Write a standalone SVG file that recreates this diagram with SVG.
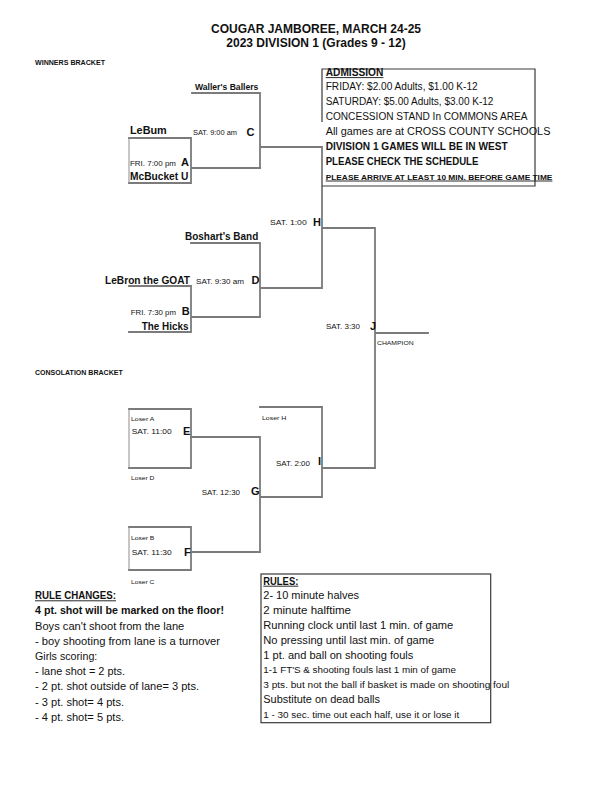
<svg xmlns="http://www.w3.org/2000/svg" width="612" height="792" viewBox="0 0 612 792">
<style>
text{font-family:"Liberation Sans",Arial,sans-serif;fill:#111}
.t{font-size:12px;font-weight:bold}
.hd{font-size:6.5px;font-weight:bold}
.nm{font-size:10.5px;font-weight:bold}
.wb{font-size:8.5px;font-weight:bold}
.s{font-size:7px}
.xs{font-size:6px}
.s2{font-size:7.5px}
.lt{font-size:11px;font-weight:bold}
.a{font-size:10px}
.ab{font-size:10px;font-weight:bold}
.asm{font-size:7.5px;font-weight:bold}
.r{font-size:10px}
.rs{font-size:8.5px}
.ln{stroke:#7b7b7b;stroke-width:1.8;fill:none;stroke-linecap:square}
.thin{stroke:#8c8c8c;stroke-width:1;fill:none}
.box{stroke:#3a3a3a;stroke-width:1.2;fill:none}
.ul{stroke:#111;stroke-width:0.9}
</style>
<rect width="612" height="792" fill="#fff"/>
<g id="title">
<text class="t" x="316" y="33" text-anchor="middle">COUGAR JAMBOREE, MARCH 24-25</text>
<text class="t" x="316" y="46.5" text-anchor="middle">2023 DIVISION 1 (Grades 9 - 12)</text>
</g>
<g id="section-labels">
<text class="hd" x="35" y="64.5" textLength="70" lengthAdjust="spacingAndGlyphs">WINNERS BRACKET</text>
<text class="hd" x="35" y="375" textLength="87.7" lengthAdjust="spacingAndGlyphs">CONSOLATION BRACKET</text>
</g>
<g id="connectors">
<path class="ln" d="M129,138H191V183H129 M191,168H260"/>
<path class="thin" d="M129,138V183"/>
<path class="ln" d="M192,93H260V168 M260,147H322V288 M191,243H260V317H191 M129,286H191V332H129 M260,288H322 M322,228H375V468 M375,333H428"/>
<path class="ln" d="M260,407H322V497H260 M322,468H375 M191,437H260V552H191"/>
<path class="ln" d="M129,409H191V468H129 M129,527H191V570H129"/>
<path class="thin" d="M129,409V468 M129,527V570"/>
</g>
<g id="game-A">
<text class="nm" x="130" y="134" textLength="36.7" lengthAdjust="spacingAndGlyphs">LeBum</text>
<text class="s" x="130" y="165.5" textLength="46" lengthAdjust="spacingAndGlyphs">FRI. 7:00 pm</text>
<text class="lt" x="181" y="165.5">A</text>
<text class="nm" x="130" y="179.5" textLength="58.3" lengthAdjust="spacingAndGlyphs">McBucket U</text>
</g>
<g id="game-C">
<text class="wb" x="195" y="90" textLength="63.3" lengthAdjust="spacingAndGlyphs">Waller's Ballers</text>
<text class="s" x="193" y="135" textLength="44" lengthAdjust="spacingAndGlyphs">SAT. 9:00 am</text>
<text class="lt" x="246.5" y="135.5">C</text>
</g>
<g id="game-H">
<text class="s" x="270" y="225" textLength="36.7" lengthAdjust="spacingAndGlyphs">SAT. 1:00</text>
<text class="lt" x="313" y="225.5">H</text>
</g>
<g id="game-D">
<text class="nm" x="185" y="239.5" textLength="73.3" lengthAdjust="spacingAndGlyphs">Boshart's Band</text>
<text class="s" x="196" y="283.5" textLength="48" lengthAdjust="spacingAndGlyphs">SAT. 9:30 am</text>
<text class="lt" x="251.5" y="283.5">D</text>
</g>
<g id="game-B">
<text class="nm" x="105" y="283.5" textLength="85" lengthAdjust="spacingAndGlyphs">LeBron the GOAT</text>
<text class="s" x="130.7" y="314.5" textLength="45.3" lengthAdjust="spacingAndGlyphs">FRI. 7:30 pm</text>
<text class="lt" x="181.7" y="314.5">B</text>
<text class="nm" x="141.7" y="329.5" textLength="46.7" lengthAdjust="spacingAndGlyphs">The Hicks</text>
</g>
<g id="game-J">
<text class="s" x="326" y="329" textLength="34" lengthAdjust="spacingAndGlyphs">SAT. 3:30</text>
<text class="lt" x="370" y="329.5">J</text>
<text class="xs" x="377" y="345" textLength="36.7" lengthAdjust="spacingAndGlyphs">CHAMPION</text>
</g>
<g id="game-E">
<text class="xs" x="131" y="420.7" textLength="23.3" lengthAdjust="spacingAndGlyphs">Loser A</text>
<text class="s2" x="131.7" y="434.3" textLength="40" lengthAdjust="spacingAndGlyphs">SAT. 11:00</text>
<text class="lt" x="183" y="434.5">E</text>
<text class="xs" x="131" y="480" textLength="23.3" lengthAdjust="spacingAndGlyphs">Loser D</text>
</g>
<g id="game-I">
<text class="xs" x="262" y="420" textLength="24.3" lengthAdjust="spacingAndGlyphs">Loser H</text>
<text class="s2" x="276" y="465.5" textLength="34" lengthAdjust="spacingAndGlyphs">SAT. 2:00</text>
<text class="lt" x="318" y="465">I</text>
</g>
<g id="game-G">
<text class="s2" x="201.7" y="494.5" textLength="38.3" lengthAdjust="spacingAndGlyphs">SAT. 12:30</text>
<text class="lt" x="251" y="494.5">G</text>
</g>
<g id="game-F">
<text class="xs" x="131" y="539.5" textLength="23.3" lengthAdjust="spacingAndGlyphs">Loser B</text>
<text class="s2" x="131.7" y="555" textLength="40" lengthAdjust="spacingAndGlyphs">SAT. 11:30</text>
<text class="lt" x="184" y="555.5">F</text>
<text class="xs" x="131" y="583.5" textLength="23.3" lengthAdjust="spacingAndGlyphs">Loser C</text>
</g>
<g id="admission">
<path class="box" d="M322,122V69H535V186H322"/>
<text class="ab" x="325.7" y="76" textLength="57.7" lengthAdjust="spacingAndGlyphs">ADMISSION</text>
<line class="ul" x1="325.7" y1="77.6" x2="383.4" y2="77.6"/>
<text class="a" x="325.7" y="90" textLength="152" lengthAdjust="spacingAndGlyphs">FRIDAY: $2.00 Adults, $1.00 K-12</text>
<text class="a" x="325.7" y="105.2" textLength="167.7" lengthAdjust="spacingAndGlyphs">SATURDAY: $5.00 Adults, $3.00 K-12</text>
<text class="a" x="325.7" y="120.2" textLength="201.7" lengthAdjust="spacingAndGlyphs">CONCESSION STAND In COMMONS AREA</text>
<text class="a" x="325.7" y="135.2" textLength="224.7" lengthAdjust="spacingAndGlyphs">All games are at  CROSS COUNTY SCHOOLS</text>
<text class="ab" x="325.7" y="150.3" textLength="182" lengthAdjust="spacingAndGlyphs">DIVISION 1 GAMES WILL BE IN WEST</text>
<text class="ab" x="325.7" y="165.3" textLength="152.7" lengthAdjust="spacingAndGlyphs">PLEASE CHECK THE SCHEDULE</text>
<text class="asm" x="325.7" y="179.5" textLength="226.7" lengthAdjust="spacingAndGlyphs">PLEASE ARRIVE AT LEAST 10 MIN. BEFORE GAME TIME</text>
<line class="ul" x1="325.7" y1="181" x2="552.4" y2="181"/>
</g>
<g id="rule-changes">
<text class="ab" x="35" y="599" textLength="81" lengthAdjust="spacingAndGlyphs">RULE CHANGES:</text>
<line class="ul" x1="35" y1="600.8" x2="116" y2="600.8"/>
<text class="ab" x="35" y="614.3" textLength="189" lengthAdjust="spacingAndGlyphs">4 pt. shot will be marked on the floor!</text>
<text class="r" x="35" y="629.6" textLength="149.3" lengthAdjust="spacingAndGlyphs">Boys can't shoot from the lane</text>
<text class="r" x="35" y="644.9" textLength="185" lengthAdjust="spacingAndGlyphs">- boy shooting from lane is a turnover</text>
<text class="r" x="35" y="660" textLength="62.3" lengthAdjust="spacingAndGlyphs">Girls scoring:</text>
<text class="r" x="35" y="675.2" textLength="90" lengthAdjust="spacingAndGlyphs">- lane shot = 2 pts.</text>
<text class="r" x="35" y="690.4" textLength="164" lengthAdjust="spacingAndGlyphs">- 2 pt. shot outside of lane= 3 pts.</text>
<text class="r" x="35" y="705.6" textLength="89" lengthAdjust="spacingAndGlyphs">- 3 pt. shot= 4 pts.</text>
<text class="r" x="35" y="720.8" textLength="89" lengthAdjust="spacingAndGlyphs">- 4 pt. shot= 5 pts.</text>
</g>
<g id="rules">
<rect class="box" x="261" y="574" width="229.7" height="148.7"/>
<text class="ab" x="263.3" y="584.5" textLength="35" lengthAdjust="spacingAndGlyphs">RULES:</text>
<line class="ul" x1="263.3" y1="586.2" x2="298.3" y2="586.2"/>
<text class="r" x="263.3" y="599.3" textLength="95.7" lengthAdjust="spacingAndGlyphs">2- 10 minute halves</text>
<text class="r" x="263.3" y="614.3" textLength="87.7" lengthAdjust="spacingAndGlyphs">2 minute halftime</text>
<text class="r" x="263.3" y="629.3" textLength="190" lengthAdjust="spacingAndGlyphs">Running clock until last 1 min. of game</text>
<text class="r" x="263.3" y="644" textLength="171" lengthAdjust="spacingAndGlyphs">No pressing until last min. of game</text>
<text class="r" x="263.3" y="659" textLength="150" lengthAdjust="spacingAndGlyphs">1 pt. and ball on shooting fouls</text>
<text class="rs" x="263.3" y="673.3" textLength="192.7" lengthAdjust="spacingAndGlyphs">1-1 FT'S &amp; shooting fouls last 1 min of game</text>
<text class="rs" x="263.3" y="688.3" textLength="246" lengthAdjust="spacingAndGlyphs">3 pts. but not the ball if basket is made on shooting foul</text>
<text class="r" x="263.3" y="703.3" textLength="116.7" lengthAdjust="spacingAndGlyphs">Substitute on dead balls</text>
<text class="rs" x="263.3" y="717.7" textLength="196" lengthAdjust="spacingAndGlyphs">1 - 30 sec. time out each half, use it or lose it</text>
</g>
</svg>
